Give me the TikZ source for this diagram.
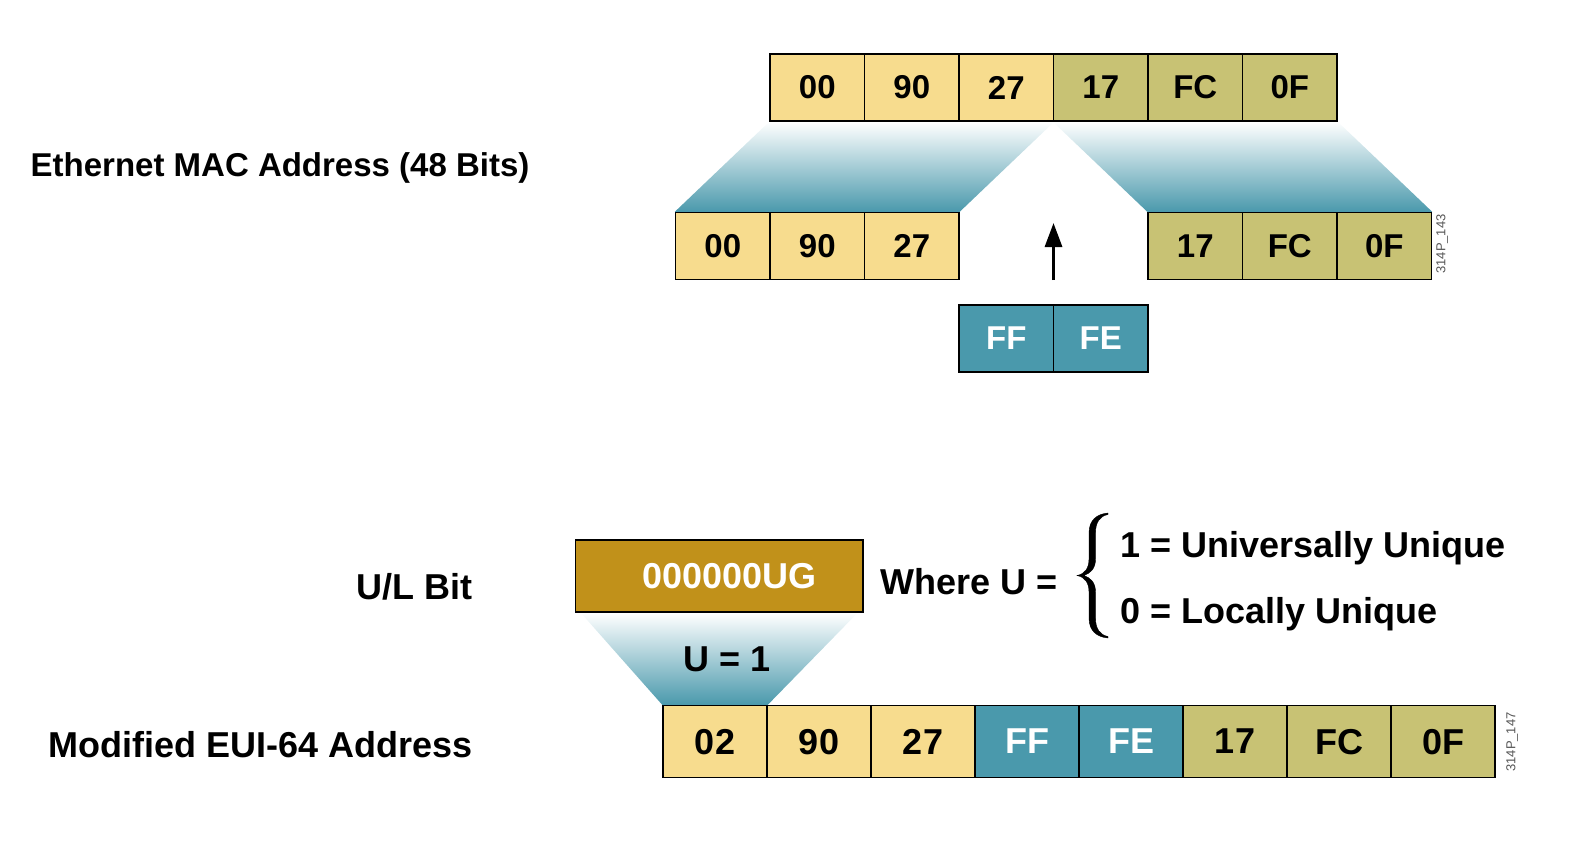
\documentclass[tikz,border=0pt]{standalone}
\usepackage{fontspec}
\setmainfont{Liberation Sans}
\usetikzlibrary{arrows.meta,backgrounds}
\definecolor{cyel}{HTML}{F7DC8E}
\definecolor{coli}{HTML}{C8C274}
\definecolor{cteal}{HTML}{4A99AC}
\definecolor{cgold}{HTML}{C1911A}
\definecolor{ctag}{HTML}{555555}
\begin{document}
\begin{tikzpicture}[x=1pt,y=-1pt,
  cellA/.style={draw=black, line width=1.4pt, inner sep=0pt, minimum width=94.5pt, minimum height=67pt, font=\fontsize{33}{33}\selectfont\bfseries},
  cellB/.style={draw=black, line width=1.4pt, inner sep=0pt, minimum width=104pt, minimum height=72pt, font=\fontsize{36}{36}\selectfont\bfseries},
  yel/.style={fill=cyel},
  oli/.style={fill=coli},
  tea/.style={fill=cteal, text=white},
  lbl/.style={inner sep=0pt, font=\fontsize{33}{33}\selectfont\bfseries},
  lblB/.style={inner sep=0pt, font=\fontsize{36}{36}\selectfont\bfseries},
  tag/.style={inner sep=0pt, rotate=90, text=ctag, font=\fontsize{13}{13}\selectfont},
  fan/.style={top color=white, bottom color=cteal},
  bracefill/.style={fill=black, draw=black, line width=0.4pt}
]
\useasboundingbox (0,0) rectangle (1594,846);

% ---------- top section ----------
\node[lbl, anchor=base west] (maclbl) at (30.5,176) {Ethernet MAC Address (48 Bits)};

\node[cellA,yel] (t0) at (817.25,87.5) {00};
\node[cellA,yel] (t1) at (911.75,87.5) {90};
\node[cellA,yel] (t2) at (1006.25,87.5) {27};
\node[cellA,oli] (t3) at (1100.75,87.5) {17};
\node[cellA,oli] (t4) at (1195.25,87.5) {FC};
\node[cellA,oli] (t5) at (1289.75,87.5) {0F};

\node[cellA,yel] (l0) at (722.75,246) {00};
\node[cellA,yel] (l1) at (817.25,246) {90};
\node[cellA,yel] (l2) at (911.75,246) {27};

\node[cellA,oli] (r0) at (1195.25,246) {17};
\node[cellA,oli] (r1) at (1289.75,246) {FC};
\node[cellA,oli] (r2) at (1384.25,246) {0F};

\node[cellA,tea] (f0) at (1006.25,338.5) {FF};
\node[cellA,tea] (f1) at (1100.75,338.5) {FE};

\coordinate (arrS) at (1053.5,280);
\coordinate (arrE) at (1053.5,223);
\draw[line width=3pt, -{Triangle[width=17pt,length=24pt]}] (arrS) -- (arrE);

\node[tag] (tag1) at (1442,244) {314P\_143};

\begin{pgfonlayer}{background}
  \shade[fan] (t0.south west) -- (t2.south east) -- (l2.north east) -- (l0.north west) -- cycle;
  \shade[fan] (t3.south west) -- (t5.south east) -- (r2.north east) -- (r0.north west) -- cycle;
\end{pgfonlayer}

% ---------- bottom section ----------
\node[lblB, anchor=base east] (ullbl) at (472.7,599) {U/L Bit};
\node[lblB, anchor=base east] (euilbl) at (472.7,757) {Modified EUI-64 Address};

\node[draw=black, line width=1.4pt, fill=cgold, text=white, inner sep=0pt,
      minimum width=287.6pt, minimum height=72pt,
      font=\fontsize{36}{36}\selectfont\bfseries] (gold) at (719.2,576) {\hspace*{20pt}000000UG};

\node[cellB,yel] (b0) at (715,741.6) {02};
\node[cellB,yel] (b1) at (819,741.6) {90};
\node[cellB,yel] (b2) at (923,741.6) {27};
\node[cellB,tea] (b3) at (1027,741.6) {FF};
\node[cellB,tea] (b4) at (1131,741.6) {FE};
\node[cellB,oli] (b5) at (1235,741.6) {17};
\node[cellB,oli] (b6) at (1339,741.6) {FC};
\node[cellB,oli] (b7) at (1443,741.6) {0F};

\begin{pgfonlayer}{background}
  \shade[fan] ([xshift=6pt]gold.south west) -- ([xshift=-6pt]gold.south east) -- (b0.north east) -- (b0.north west) -- cycle;
\end{pgfonlayer}
\node[lblB] (ueq) at (727,659) {U = 1};

\node[lblB, anchor=base west] (where) at (880,594) {Where U =};

% curly brace drawn as a tapered filled shape
\fill[bracefill]
  (1108,513) .. controls (1097,514) and (1089,520) .. (1089,533)
  -- (1089,559) .. controls (1089,568) and (1085,574) .. (1077,575.5)
  .. controls (1085,577) and (1089,583) .. (1089,592)
  -- (1089,618) .. controls (1089,631) and (1097,637) .. (1108,638)
  -- (1108,636.5) .. controls (1100,635) and (1095.5,629) .. (1095.5,618)
  -- (1095.5,592) .. controls (1095.5,583) and (1091,578) .. (1084,575.5)
  .. controls (1091,573) and (1095.5,568) .. (1095.5,559)
  -- (1095.5,533) .. controls (1095.5,522) and (1100,516) .. (1108,514.5)
  -- cycle;

\node[lblB, anchor=base west] (uni) at (1120,557) {1 = Universally Unique};
\node[lblB, anchor=base west] (loc) at (1120,623) {0 = Locally Unique};

\node[tag] (tag2) at (1512,742) {314P\_147};
\end{tikzpicture}
\end{document}
